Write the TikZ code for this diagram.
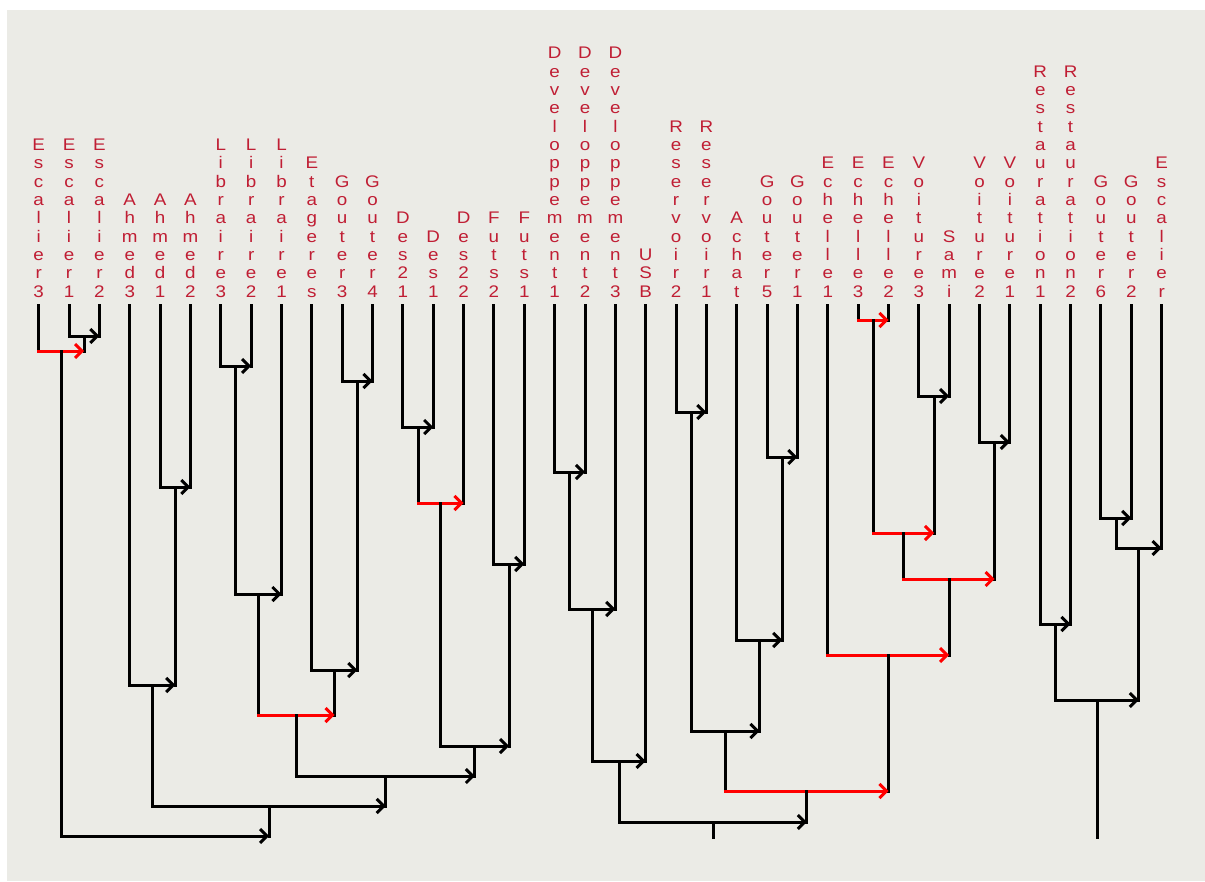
\documentclass[tikz,border=0pt]{standalone}
\usepackage{fontspec}
\setmainfont[FakeStretch=1.12]{Liberation Sans}
\usetikzlibrary{arrows.meta,calc}
\definecolor{labelred}{RGB}{192,30,52}
\definecolor{panelgray}{RGB}{235,235,230}

% one letter per line, base of the last letter is the node base
\def\vstackend{vstackend}
\newcommand\vstack[1]{\vbox{\baselineskip=18.33pt\lineskiplimit=-50pt\lineskip=0pt\vstackrun#1\vstackend}}
\def\vstackrun#1{\ifx#1\vstackend\else\hbox to 0pt{\hss#1\hss}\expandafter\vstackrun\fi}

% merge of two branches at a given height
\newcommand\junction[5]{%
  \coordinate (tmp) at ($(#2)!0.5!(#3)$);
  \coordinate (#1) at (tmp |- 0,#4);
  \draw[branch] (#2) -- (#2 |- #1);
  \draw[branch] (#3) -- (#3 |- #1);
  \draw[#5] (#2 |- #1) -- (#3 |- #1);
}

\tikzset{
  branch/.style={line width=3pt, black, line cap=rect},
  link/.style={branch, -{Straight Barb[length=7pt,width=14pt]}},
  hotlink/.style={link, red},
  leaflabel/.style={anchor=base, inner sep=0pt, text=labelred, font=\fontsize{16.8}{18.3}\selectfont},
}

\begin{document}
\begin{tikzpicture}[x=1pt,y=-1pt]
  \useasboundingbox (0,0) rectangle (1205,881);
  \fill[white] (0,0) rectangle (1205,881);
  \fill[panelgray] (7,10) rectangle (1205,881);

  % Leaves
  \foreach \name [count=\i] in {Escalier3,Escalier1,Escalier2,Ahmed3,Ahmed1,Ahmed2,
      Libraire3,Libraire2,Libraire1,Etageres,Gouter3,Gouter4,Des21,Des1,Des22,Futs2,Futs1,
      Developpement1,Developpement2,Developpement3,USB,Reservoir2,Reservoir1,Achat,Gouter5,
      Gouter1,Echelle1,Echelle3,Echelle2,Voiture3,Sami,Voiture2,Voiture1,Restauration1,
      Restauration2,Gouter6,Gouter2,Escalier}{
    \coordinate (\name) at ({38.7+(\i-1)*30.35},305);
    \node[leaflabel] (\name-txt) at ({38.7+(\i-1)*30.35},297) {\expandafter\vstack\expandafter{\name}};
  }

  % Left tree
  \junction{a1}{Escalier1}{Escalier2}{336}{link}
  \junction{a2}{Escalier3}{a1}{351}{hotlink}
  \junction{b1}{Ahmed1}{Ahmed2}{487}{link}
  \junction{b2}{Ahmed3}{b1}{685}{link}
  \junction{c1}{Libraire3}{Libraire2}{366}{link}
  \junction{c2}{c1}{Libraire1}{594}{link}
  \junction{d1}{Gouter3}{Gouter4}{381}{link}
  \junction{d2}{Etageres}{d1}{670}{link}
  \junction{e1}{c2}{d2}{715}{hotlink}
  \junction{f1}{Des21}{Des1}{427}{link}
  \junction{f2}{f1}{Des22}{503}{hotlink}
  \junction{g1}{Futs2}{Futs1}{564}{link}
  \junction{h1}{f2}{g1}{746}{link}
  \junction{i1}{e1}{h1}{776}{link}
  \junction{j1}{b2}{i1}{806}{link}
  \junction{root1}{a2}{j1}{836}{link}

  % Middle tree
  \junction{k1}{Developpement1}{Developpement2}{472}{link}
  \junction{k2}{k1}{Developpement3}{609}{link}
  \junction{k3}{k2}{USB}{761}{link}
  \junction{m1}{Reservoir2}{Reservoir1}{412}{link}
  \junction{n1}{Gouter5}{Gouter1}{457}{link}
  \junction{n2}{Achat}{n1}{640}{link}
  \junction{m2}{m1}{n2}{731}{link}
  \junction{p1}{Echelle3}{Echelle2}{320}{hotlink}
  \junction{q1}{Voiture3}{Sami}{396}{link}
  \junction{p2}{p1}{q1}{533}{hotlink}
  \junction{r1}{Voiture2}{Voiture1}{442}{link}
  \junction{p3}{p2}{r1}{579}{hotlink}
  \junction{p4}{Echelle1}{p3}{655}{hotlink}
  \junction{s1}{m2}{p4}{791}{hotlink}
  \junction{root2}{k3}{s1}{822}{link}
  \coordinate (base2) at (root2 |- 0,837);
  \draw[branch] (root2) -- (base2);

  % Right tree
  \junction{t1}{Restauration1}{Restauration2}{624}{link}
  \junction{u1}{Gouter6}{Gouter2}{518}{link}
  \junction{u2}{u1}{Escalier}{548}{link}
  \junction{root3}{t1}{u2}{700}{link}
  \coordinate (base3) at (root3 |- 0,837);
  \draw[branch] (root3) -- (base3);
\end{tikzpicture}
\end{document}
